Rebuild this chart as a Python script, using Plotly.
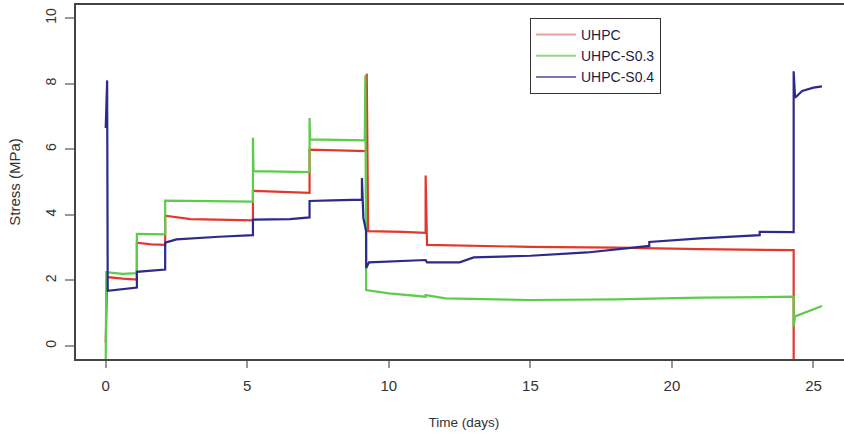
import plotly.graph_objects as go

# ---- data ----
series_names = ["UHPC", "UHPC-S0.3", "UHPC-S0.4"]

uhpc_t = [0.0, 0.05, 0.6, 1.1, 1.1, 1.6, 2.1, 2.1, 3.0, 5.2, 5.2, 6.0, 7.2, 7.2, 8.5, 9.2,
          9.22, 9.27, 10.5, 11.3, 11.3, 11.35, 15.0, 18.0, 21.0, 24.3, 24.3]
uhpc_v = [0.1, 2.1, 2.05, 2.02, 3.15, 3.1, 3.08, 3.97, 3.87, 3.83, 4.73, 4.7, 4.67, 5.99, 5.96, 5.94,
          8.3, 3.5, 3.48, 3.45, 5.2, 3.08, 3.02, 3.0, 2.95, 2.92, -0.4]

s03_t = [0.0, 0.02, 0.6, 1.1, 1.1, 2.1, 2.1, 4.0, 5.2, 5.2, 5.22, 7.2, 7.2, 7.22, 9.15,
         9.17, 9.2, 10.0, 11.3, 11.3, 12.0, 15.0, 18.0, 21.0, 24.3, 24.3, 24.35, 24.8, 25.3]
s03_v = [-0.4, 2.25, 2.2, 2.22, 3.42, 3.4, 4.43, 4.42, 4.4, 6.35, 5.33, 5.3, 6.95, 6.3, 6.27,
         8.25, 1.7, 1.6, 1.5, 1.55, 1.45, 1.4, 1.42, 1.47, 1.5, 0.6, 0.9, 1.05, 1.22]

s04_t = [0.0, 0.05, 0.07, 0.6, 1.1, 1.1, 2.1, 2.1, 2.5, 4.0, 5.2, 5.2, 6.5, 7.2, 7.2, 8.0, 9.05,
         9.05, 9.1, 9.2, 9.2, 9.3, 11.3, 11.35, 12.5, 13.0, 15.0, 17.0, 19.2, 19.2, 21.0, 23.1,
         23.1, 24.3, 24.3, 24.35, 24.6, 25.0, 25.3]
s04_v = [6.65, 8.1, 1.68, 1.72, 1.78, 2.26, 2.33, 3.15, 3.25, 3.33, 3.38, 3.85, 3.87, 3.92, 4.42, 4.44, 4.46,
         5.12, 3.9, 3.5, 2.38, 2.55, 2.62, 2.55, 2.55, 2.7, 2.75, 2.85, 3.05, 3.17, 3.28, 3.38,
         3.48, 3.47, 8.38, 7.57, 7.78, 7.88, 7.92]

x_ticks = [0, 5, 10, 15, 20, 25]
y_ticks = [0, 2, 4, 6, 8, 10]

line_colors = ["#e4372c", "#5ecb4c", "#2e2a8a"]
legend_colors = ["#f2a09b", "#8ed77f", "#7b73b5"]

FONT = "Liberation Sans, Arial, sans-serif"

# figure is slightly wider than the window so that the right edge of the box is cropped,
# as in the reference
FIG_W = 852
PLOT_W = FIG_W - 76

fig = go.Figure()
for t, v, c in zip([uhpc_t, s03_t, s04_t], [uhpc_v, s03_v, s04_v], line_colors):
    fig.add_trace(go.Scatter(x=t, y=v, mode="lines", line=dict(color=c, width=2.2),
                             showlegend=False, hoverinfo="skip"))
for name, c in zip(series_names, legend_colors):
    fig.add_trace(go.Scatter(x=[None], y=[None], mode="lines", name=name,
                             line=dict(color=c, width=2)))

fig.update_layout(
    width=FIG_W, height=434,
    margin=dict(l=76, r=0, t=5, b=75),
    plot_bgcolor="white", paper_bgcolor="white",
    font=dict(family=FONT, size=14, color="#333333"),
    legend=dict(x=(530 - 76) / PLOT_W, y=(359 - 18) / 354, xanchor="left", yanchor="top",
                bordercolor="#333333", borderwidth=1, bgcolor="white",
                font=dict(size=14, color="#1c1c48"), itemwidth=40, tracegroupgap=0),
    xaxis=dict(range=[-1.05, -1.05 + PLOT_W / 28.31], tickvals=x_ticks, showgrid=False,
               zeroline=False, showline=True, linecolor="#444444", linewidth=1.5, mirror=True,
               ticks="outside", ticklen=7, tickcolor="#999999", tickwidth=1.5,
               ticklabelstandoff=5, tickfont=dict(size=15, color="#333333"),
               automargin=False,
               title=dict(text="Time (days)", font=dict(size=13.5, color="#333333"), standoff=25)),
    yaxis=dict(range=[-0.4, 10.4], tickvals=y_ticks, showgrid=False, zeroline=False,
               showline=True, linecolor="#444444", linewidth=1.5,
               ticks="outside", ticklen=9, tickcolor="#999999", tickwidth=1.5,
               tickangle=-90, ticklabelstandoff=4, tickfont=dict(size=14, color="#333333"),
               automargin=False,
               title=dict(text="Stress (MPa)", font=dict(size=15, color="#333333"), standoff=18)),
)

fig.write_html("out.html", config={"displayModeBar": False},
               post_script="document.body.style.margin='0';document.body.style.overflow='hidden';")
